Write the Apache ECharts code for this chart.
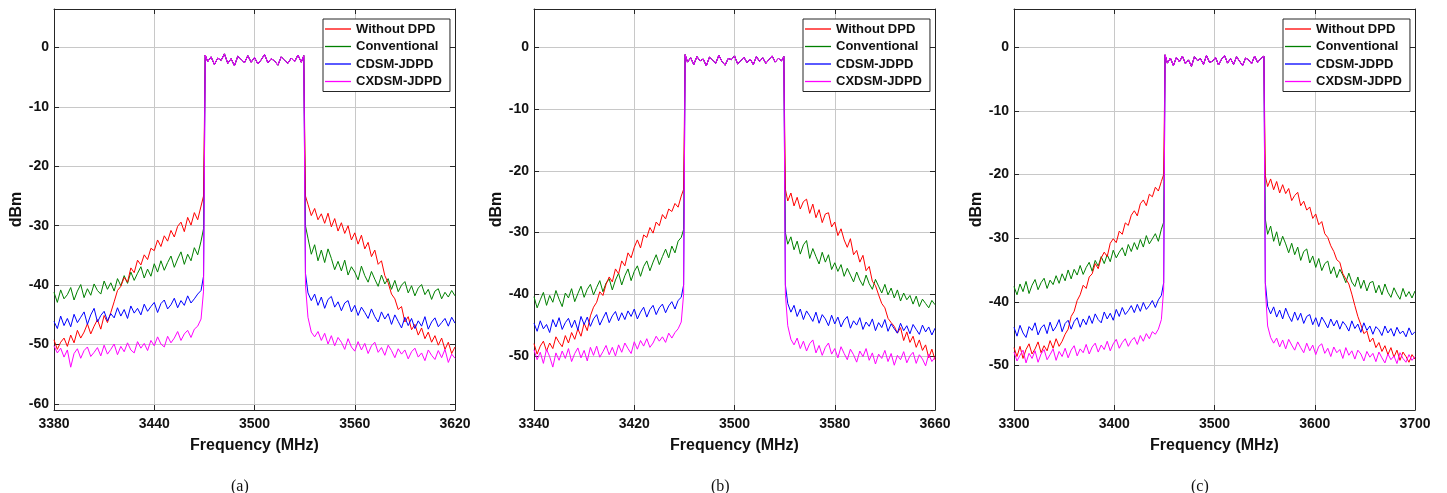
<!DOCTYPE html>
<html><head><meta charset="utf-8">
<script src="https://cdn.jsdelivr.net/npm/echarts@6/dist/echarts.min.js"></script>
<style>html,body{margin:0;padding:0;background:#fff}#c{width:1447px;height:493px}</style>
</head><body><div id="c"></div>
<script>
const seriesNames = ['Without DPD','Conventional','CDSM-JDPD','CXDSM-JDPD'];
const captions = ['(a)','(b)','(c)'];
const xTicksA = [3380,3440,3500,3560,3620];
const xTicksB = [3340,3420,3500,3580,3660];
const xTicksC = [3300,3400,3500,3600,3700];
const yTicksA = [-60,-50,-40,-30,-20,-10,0];
const yTicksB = [-50,-40,-30,-20,-10,0];
const yTicksC = [-50,-40,-30,-20,-10,0];

// ---------- panel (a) ----------
const freqA_L = [3380,3382,3384,3386,3388,3390,3392,3394,3396,3398,3400,3402,3404,3406,3408,3410,3412,3414,3416,3418,3420,3422,3424,3426,3428,3430,3432,3434,3436,3438,3440,3442,3444,3446,3448,3450,3452,3454,3456,3458,3460,3462,3464,3466,3468,3469.5];
const freqA_B = [3470.5,3472,3474,3476,3478,3480,3482,3484,3486,3488,3490,3492,3494,3496,3498,3500,3502,3504,3506,3508,3510,3512,3514,3516,3518,3520,3522,3524,3526,3528,3529.5];
const freqA_R = [3530.5,3532,3534,3536,3538,3540,3542,3544,3546,3548,3550,3552,3554,3556,3558,3560,3562,3564,3566,3568,3570,3572,3574,3576,3578,3580,3582,3584,3586,3588,3590,3592,3594,3596,3598,3600,3602,3604,3606,3608,3610,3612,3614,3616,3618,3620];
const bandA = [-1.3,-2.4,-1.6,-2.9,-1.8,-2.2,-1.1,-2.7,-1.9,-3.1,-1.5,-2.0,-2.6,-1.4,-2.5,-1.7,-2.8,-2.1,-1.2,-2.6,-1.9,-2.3,-3.0,-1.6,-2.2,-2.7,-1.8,-2.4,-1.3,-2.5,-1.4];
const withoutA_L = [-49.2,-50.8,-49.6,-48.9,-50.3,-48.4,-49.7,-47.6,-48.9,-47.9,-46.5,-48.2,-46.9,-45.8,-47.4,-45.1,-46.3,-44.6,-42.8,-40.9,-40.2,-38.7,-39.5,-37.1,-37.9,-35.8,-36.6,-34.9,-35.7,-33.8,-34.2,-32.4,-33.5,-31.7,-32.6,-30.8,-31.9,-30.1,-29.4,-31.0,-28.6,-29.9,-27.8,-29.0,-26.7,-25.0];
const withoutA_R = [-25.0,-26.4,-28.3,-27.1,-29.0,-28.0,-29.6,-27.9,-30.2,-28.8,-30.9,-29.5,-31.3,-30.0,-32.4,-31.2,-33.1,-31.6,-33.9,-32.8,-35.2,-34.1,-36.5,-35.9,-38.4,-39.6,-41.5,-42.3,-44.1,-43.6,-46.2,-45.3,-47.5,-46.6,-48.4,-47.2,-49.0,-47.9,-49.6,-48.5,-50.1,-48.9,-50.8,-49.6,-51.5,-50.4];
const convA_L = [-41.2,-42.9,-40.8,-42.3,-41.6,-40.4,-42.5,-41.0,-39.9,-42.1,-40.6,-41.7,-39.8,-40.9,-41.5,-39.3,-40.7,-39.6,-41.0,-38.9,-40.1,-38.4,-39.7,-37.8,-39.2,-38.0,-36.9,-38.8,-37.3,-38.5,-36.4,-37.8,-35.9,-37.5,-36.2,-35.1,-37.0,-35.6,-34.4,-36.5,-34.8,-35.9,-33.7,-34.9,-32.6,-30.5];
const convA_R = [-30.0,-32.1,-34.8,-33.2,-35.9,-34.1,-36.2,-33.9,-35.5,-37.4,-36.0,-37.6,-35.8,-38.3,-36.9,-37.8,-39.1,-36.8,-38.4,-39.5,-37.7,-39.0,-40.2,-38.3,-39.8,-38.9,-40.7,-39.2,-41.1,-40.0,-39.4,-41.3,-40.1,-41.8,-40.5,-39.9,-41.6,-40.7,-42.4,-41.0,-40.6,-42.3,-41.2,-42.0,-40.9,-41.8];
const cdsmA_L = [-46.1,-47.3,-45.2,-46.8,-45.6,-47.0,-44.9,-46.3,-45.4,-44.5,-46.6,-45.0,-43.9,-46.2,-45.1,-44.4,-46.0,-44.8,-45.5,-43.8,-45.2,-44.1,-45.6,-43.5,-44.7,-43.9,-45.0,-43.2,-44.4,-43.6,-42.9,-44.6,-43.1,-42.5,-44.0,-43.3,-42.2,-43.8,-42.6,-43.4,-41.8,-43.0,-42.3,-41.5,-40.9,-38.5];
const cdsmA_R = [-38.0,-41.3,-42.6,-41.5,-43.4,-42.0,-43.9,-42.4,-41.9,-43.7,-42.8,-44.3,-43.0,-42.6,-44.5,-43.4,-45.1,-43.7,-44.6,-45.6,-44.0,-45.3,-46.2,-44.5,-45.7,-44.8,-46.6,-45.0,-46.1,-47.2,-45.4,-46.8,-45.6,-47.3,-46.0,-46.9,-45.3,-47.4,-46.2,-45.5,-47.0,-46.3,-45.6,-46.9,-45.4,-46.4];
const cxdsmA_L = [-50.2,-51.4,-50.6,-52.1,-50.9,-53.8,-51.5,-50.7,-52.3,-51.0,-50.4,-52.0,-51.3,-50.5,-51.9,-50.1,-51.6,-50.8,-49.9,-51.7,-50.3,-51.2,-49.7,-50.9,-51.4,-49.5,-50.6,-49.8,-51.0,-49.3,-50.2,-48.7,-49.9,-50.4,-48.6,-49.7,-48.9,-47.8,-49.3,-48.2,-47.6,-48.8,-47.4,-46.9,-45.7,-41.0];
const cxdsmA_R = [-40.0,-45.4,-47.9,-48.7,-47.8,-49.3,-48.1,-49.9,-48.5,-50.2,-48.8,-49.6,-50.8,-49.0,-50.4,-51.1,-49.5,-50.9,-49.8,-51.5,-50.2,-49.6,-51.3,-50.5,-51.8,-50.1,-51.0,-52.2,-50.7,-51.6,-50.9,-52.4,-51.2,-50.6,-52.1,-51.4,-52.7,-50.9,-51.8,-52.5,-51.0,-52.2,-50.8,-53.0,-51.6,-52.3];

// ---------- panel (b) ----------
const freqB_L = [3340,3342.5,3345,3347.5,3350,3352.5,3355,3357.5,3360,3362.5,3365,3367.5,3370,3372.5,3375,3377.5,3380,3382.5,3385,3387.5,3390,3392.5,3395,3397.5,3400,3402.5,3405,3407.5,3410,3412.5,3415,3417.5,3420,3422.5,3425,3427.5,3430,3432.5,3435,3437.5,3440,3442.5,3445,3447.5,3450,3452.5,3455,3457.5,3459.4];
const freqB_B = [3460.6,3462.5,3465,3467.5,3470,3472.5,3475,3477.5,3480,3482.5,3485,3487.5,3490,3492.5,3495,3497.5,3500,3502.5,3505,3507.5,3510,3512.5,3515,3517.5,3520,3522.5,3525,3527.5,3530,3532.5,3535,3537.5,3539.4];
const freqB_R = [3540.6,3542.5,3545,3547.5,3550,3552.5,3555,3557.5,3560,3562.5,3565,3567.5,3570,3572.5,3575,3577.5,3580,3582.5,3585,3587.5,3590,3592.5,3595,3597.5,3600,3602.5,3605,3607.5,3610,3612.5,3615,3617.5,3620,3622.5,3625,3627.5,3630,3632.5,3635,3637.5,3640,3642.5,3645,3647.5,3650,3652.5,3655,3657.5,3660];
const bandB = [-1.2,-2.4,-1.7,-2.8,-1.5,-2.2,-1.9,-3.0,-1.6,-2.1,-2.6,-1.3,-2.3,-2.9,-1.8,-2.0,-1.4,-2.7,-2.2,-1.6,-2.5,-1.9,-2.8,-1.5,-2.3,-1.7,-2.6,-2.0,-1.4,-2.4,-1.8,-2.2,-1.5];
const withoutB_L = [-48.0,-49.7,-48.4,-47.6,-49.2,-47.9,-48.8,-46.9,-47.8,-48.5,-46.7,-47.9,-46.2,-47.3,-45.6,-46.8,-44.7,-45.9,-43.5,-42.1,-41.3,-39.6,-40.2,-38.4,-37.2,-38.0,-35.9,-36.7,-34.6,-35.4,-33.3,-34.1,-32.4,-31.2,-32.5,-30.4,-30.8,-29.2,-30.1,-28.3,-28.9,-27.1,-27.8,-26.2,-26.6,-25.3,-25.9,-24.1,-23.0];
const withoutB_R = [-23.0,-24.9,-23.6,-25.7,-24.3,-26.2,-25.0,-24.6,-26.9,-25.4,-27.6,-26.3,-28.4,-27.0,-26.8,-29.1,-28.3,-30.5,-29.4,-31.2,-32.4,-31.0,-33.6,-32.9,-34.8,-33.7,-36.2,-35.5,-37.9,-38.6,-40.1,-41.5,-42.2,-43.9,-44.6,-45.2,-46.3,-45.4,-47.5,-46.1,-47.8,-46.8,-48.6,-47.4,-49.1,-48.2,-50.3,-48.9,-50.6];
const convB_L = [-40.4,-42.2,-40.9,-39.7,-41.8,-40.2,-41.3,-39.4,-40.8,-42.0,-39.8,-40.6,-39.1,-41.2,-39.9,-38.7,-40.5,-39.2,-38.4,-40.1,-38.9,-37.8,-39.6,-38.2,-37.5,-39.3,-37.7,-36.6,-38.5,-37.0,-35.9,-37.8,-36.3,-35.4,-37.1,-35.5,-34.6,-36.2,-34.8,-33.6,-35.2,-33.9,-32.7,-34.1,-32.2,-33.3,-31.4,-30.8,-29.5];
const convB_R = [-30.0,-31.9,-30.7,-32.8,-31.4,-33.5,-32.0,-31.3,-34.2,-32.6,-33.9,-35.1,-33.2,-34.8,-33.6,-36.0,-34.9,-36.3,-35.2,-37.1,-35.8,-36.9,-38.0,-36.4,-37.7,-38.6,-36.9,-38.3,-39.2,-37.6,-38.7,-39.8,-38.4,-40.1,-39.0,-40.6,-39.3,-41.1,-39.8,-40.9,-40.2,-41.6,-40.3,-42.0,-40.8,-41.5,-42.2,-41.0,-41.7];
const cdsmB_L = [-44.7,-46.0,-44.3,-45.6,-44.9,-46.2,-44.1,-45.3,-43.8,-45.7,-44.6,-43.9,-45.4,-44.2,-45.8,-43.6,-44.9,-43.7,-45.2,-44.0,-43.3,-45.0,-43.9,-42.9,-44.6,-43.5,-42.8,-44.3,-43.0,-44.1,-42.7,-43.6,-42.4,-44.0,-42.9,-42.1,-43.7,-42.5,-41.8,-43.3,-42.2,-41.6,-43.0,-41.9,-41.2,-42.4,-41.0,-40.5,-38.5];
const cdsmB_R = [-38.5,-41.5,-42.9,-41.8,-43.6,-42.4,-44.1,-42.7,-43.5,-44.4,-42.9,-44.7,-43.3,-44.0,-45.1,-43.4,-44.8,-43.7,-45.3,-44.2,-43.6,-45.5,-44.3,-45.0,-43.8,-45.7,-44.5,-45.2,-44.0,-45.9,-44.6,-45.4,-44.1,-46.0,-44.8,-45.6,-46.3,-44.7,-45.9,-45.1,-46.4,-44.9,-45.7,-46.5,-45.0,-46.1,-45.3,-46.6,-45.5];
const cxdsmB_L = [-49.0,-50.6,-49.4,-51.2,-48.9,-50.1,-51.8,-49.5,-50.7,-49.2,-50.4,-48.8,-50.9,-49.6,-48.7,-50.3,-49.1,-50.8,-48.6,-49.9,-48.4,-50.2,-49.3,-48.3,-49.8,-48.6,-50.0,-48.2,-49.4,-47.9,-48.8,-49.6,-47.7,-48.9,-47.5,-48.4,-47.2,-48.6,-47.9,-46.8,-47.6,-46.9,-47.8,-46.3,-47.1,-46.2,-45.6,-44.5,-40.0];
const cxdsmB_R = [-40.0,-45.1,-47.3,-48.2,-47.1,-48.8,-47.6,-49.2,-48.0,-47.4,-49.5,-48.3,-49.9,-48.6,-47.9,-49.7,-48.8,-50.3,-48.5,-49.6,-50.6,-48.9,-49.8,-51.0,-49.2,-50.1,-48.8,-50.7,-49.5,-51.3,-49.7,-50.4,-49.1,-50.9,-49.6,-51.5,-49.9,-50.6,-49.3,-51.1,-50.0,-49.4,-51.2,-49.8,-50.5,-51.6,-49.7,-50.9,-50.2];

// ---------- panel (c) ----------
const freqC_L = [3300,3303,3306,3309,3312,3315,3318,3321,3324,3327,3330,3333,3336,3339,3342,3345,3348,3351,3354,3357,3360,3363,3366,3369,3372,3375,3378,3381,3384,3387,3390,3393,3396,3399,3402,3405,3408,3411,3414,3417,3420,3423,3426,3429,3432,3435,3438,3441,3444,3447,3449.3];
const freqC_B = [3450.7,3453,3456,3459,3462,3465,3468,3471,3474,3477,3480,3483,3486,3489,3492,3495,3498,3501,3504,3507,3510,3513,3516,3519,3522,3525,3528,3531,3534,3537,3540,3543,3546,3549.3];
const freqC_R = [3550.7,3553,3556,3559,3562,3565,3568,3571,3574,3577,3580,3583,3586,3589,3592,3595,3598,3601,3604,3607,3610,3613,3616,3619,3622,3625,3628,3631,3634,3637,3640,3643,3646,3649,3652,3655,3658,3661,3664,3667,3670,3673,3676,3679,3682,3685,3688,3691,3694,3697,3700];
const bandC = [-1.2,-2.5,-1.7,-2.9,-1.6,-2.3,-1.4,-2.6,-2.0,-3.0,-1.5,-2.1,-1.8,-2.7,-1.3,-2.4,-2.2,-1.6,-2.8,-1.9,-1.3,-2.5,-1.8,-2.7,-1.5,-2.2,-2.9,-1.7,-2.0,-2.6,-1.4,-2.4,-1.8,-1.4];
const withoutC_L = [-47.2,-48.6,-47.0,-48.9,-47.5,-46.6,-48.2,-47.4,-46.3,-48.0,-46.9,-47.7,-46.1,-47.3,-45.8,-47.0,-46.2,-45.1,-44.3,-42.3,-41.5,-39.8,-38.9,-37.4,-37.9,-36.1,-35.6,-34.0,-34.8,-33.1,-32.2,-32.9,-30.8,-30.1,-30.7,-28.9,-29.4,-27.6,-28.0,-26.4,-25.7,-26.5,-24.6,-24.0,-24.9,-23.1,-23.5,-22.0,-22.6,-21.1,-20.0];
const withoutC_R = [-20.2,-21.9,-20.7,-22.4,-21.1,-22.9,-21.6,-23.0,-22.2,-24.1,-23.3,-22.8,-24.9,-24.2,-25.6,-25.1,-26.9,-26.2,-27.9,-27.4,-29.3,-29.9,-31.2,-32.1,-33.4,-33.8,-35.6,-36.4,-37.2,-38.8,-40.6,-42.3,-43.6,-45.0,-44.6,-46.3,-45.7,-47.2,-46.4,-47.8,-46.9,-48.3,-47.2,-48.7,-47.6,-49.2,-47.9,-48.6,-49.5,-48.3,-49.0];
const convC_L = [-37.6,-38.9,-37.2,-38.4,-36.8,-38.7,-37.4,-36.5,-38.1,-37.0,-36.3,-37.9,-36.6,-37.3,-35.9,-37.1,-35.6,-36.7,-35.0,-36.4,-34.9,-35.8,-34.3,-35.7,-34.6,-33.8,-35.2,-33.5,-34.4,-32.9,-34.0,-32.6,-33.7,-31.9,-33.1,-32.2,-31.5,-32.8,-31.0,-32.1,-30.7,-31.8,-30.2,-31.4,-29.6,-30.9,-30.1,-29.3,-30.5,-28.6,-27.5];
const convC_R = [-27.0,-29.4,-28.1,-30.5,-29.0,-31.2,-29.7,-30.9,-32.3,-30.8,-32.6,-31.4,-33.5,-32.1,-31.7,-33.9,-32.8,-34.6,-33.2,-35.1,-34.0,-33.6,-35.6,-34.5,-36.2,-34.9,-35.8,-37.0,-35.5,-36.9,-37.6,-36.1,-37.9,-36.6,-38.3,-37.0,-36.8,-38.6,-37.4,-38.9,-37.2,-38.5,-39.3,-37.8,-38.8,-39.6,-37.9,-39.2,-38.4,-39.4,-38.3];
const cdsmC_L = [-44.0,-45.4,-43.7,-44.9,-45.6,-43.9,-44.5,-43.3,-45.2,-44.1,-43.6,-45.0,-43.2,-44.6,-43.9,-42.8,-44.7,-43.4,-42.9,-44.3,-43.1,-42.5,-44.0,-42.7,-43.6,-42.2,-43.4,-41.9,-42.8,-43.3,-41.6,-42.7,-41.8,-42.9,-41.2,-42.3,-40.9,-42.0,-41.4,-40.6,-41.7,-40.4,-41.5,-40.1,-41.2,-40.6,-39.8,-40.9,-39.7,-39.0,-37.0];
const cdsmC_R = [-37.0,-40.7,-41.9,-40.8,-42.4,-41.3,-42.7,-41.0,-42.2,-43.1,-41.6,-42.9,-41.8,-43.4,-42.3,-42.0,-43.6,-42.5,-43.9,-42.4,-43.2,-44.1,-42.7,-43.8,-42.9,-44.3,-43.1,-43.7,-44.6,-43.0,-44.2,-43.5,-44.8,-43.3,-44.5,-43.8,-45.1,-43.9,-44.4,-45.3,-43.8,-44.9,-44.2,-45.4,-44.0,-45.0,-44.6,-45.5,-44.1,-45.2,-44.7];
const cxdsmC_L = [-47.9,-49.3,-48.4,-47.6,-49.6,-48.1,-48.9,-47.7,-49.5,-48.2,-47.5,-49.1,-48.3,-47.4,-49.2,-47.8,-48.6,-47.3,-48.8,-47.6,-46.9,-48.5,-47.4,-48.0,-46.7,-48.2,-47.1,-46.5,-47.9,-46.8,-47.5,-46.2,-47.7,-46.6,-45.9,-47.3,-46.4,-45.8,-47.0,-46.1,-45.6,-46.7,-45.3,-46.2,-45.0,-45.8,-44.7,-45.1,-44.3,-42.8,-38.0];
const cxdsmC_R = [-38.0,-43.8,-45.6,-46.5,-45.7,-47.1,-46.0,-47.4,-45.9,-46.8,-47.6,-46.3,-47.2,-48.0,-46.5,-47.7,-46.8,-48.3,-47.0,-46.6,-48.1,-47.3,-48.6,-47.1,-48.0,-47.5,-48.9,-47.2,-48.4,-47.7,-49.0,-47.6,-48.2,-49.3,-47.8,-48.7,-48.1,-49.4,-47.9,-48.8,-49.6,-48.2,-49.1,-48.5,-49.7,-48.0,-48.9,-49.5,-48.3,-49.2,-48.6];

// ---------- assembly ----------
const panels = [
  {xTicks:xTicksA, yTicks:yTicksA, yRange:[-61,6.45], fL:freqA_L, fB:freqA_B, fR:freqA_R, band:bandA,
   L:[withoutA_L,convA_L,cdsmA_L,cxdsmA_L], R:[withoutA_R,convA_R,cdsmA_R,cxdsmA_R]},
  {xTicks:xTicksB, yTicks:yTicksB, yRange:[-58.75,6.2], fL:freqB_L, fB:freqB_B, fR:freqB_R, band:bandB,
   L:[withoutB_L,convB_L,cdsmB_L,cxdsmB_L], R:[withoutB_R,convB_R,cdsmB_R,cxdsmB_R]},
  {xTicks:xTicksC, yTicks:yTicksC, yRange:[-57,6], fL:freqC_L, fB:freqC_B, fR:freqC_R, band:bandC,
   L:[withoutC_L,convC_L,cdsmC_L,cxdsmC_L], R:[withoutC_R,convC_R,cdsmC_R,cxdsmC_R]}
];
const gridLefts = [54, 534, 1014];
const colors = ['#ff0000','#008000','#0000ff','#ff00ff'];
const drawOrder = [1,0,2,3];
const axisColor = '#262626';
const labelFont = {fontFamily:'Liberation Sans, Arial, sans-serif', fontWeight:'bold', fontSize:14, color:'#111'};
const nameFont = {fontFamily:'Liberation Sans, Arial, sans-serif', fontWeight:'bold', fontSize:16, color:'#111'};
const lineIcon = 'path://M0,0 L26,0 L26,1.3 L0,1.3 Z';

const grid = [], xAxis = [], yAxis = [], series = [], legend = [], graphic = [];
panels.forEach((p, i) => {
  const x0 = p.xTicks[0];
  const span = p.xTicks[p.xTicks.length - 1] - x0;
  const step = p.xTicks[1] - p.xTicks[0];
  grid.push({left: gridLefts[i], top: 9, width: 401, height: 401});
  const xBase = {type:'value', gridIndex:i, min:0, max:span, interval:step,
    axisLine:{show:true, onZero:false, lineStyle:{color:axisColor, width:1}},
    axisTick:{show:true, inside:true, length:5, lineStyle:{color:axisColor}}};
  xAxis.push(Object.assign({}, xBase, {position:'bottom',
    name:'Frequency (MHz)', nameLocation:'middle', nameGap:28, nameTextStyle:nameFont,
    axisLabel:Object.assign({margin:7, formatter:v => String(Math.round(v + x0))}, labelFont),
    splitLine:{show:true, lineStyle:{color:'#c8c8c8', width:1}}}));
  xAxis.push(Object.assign({}, xBase, {position:'top', axisLabel:{show:false}, splitLine:{show:false}}));
  const yBase = {type:'value', gridIndex:i, min:p.yRange[0], max:p.yRange[1], splitNumber:6, minInterval:10, maxInterval:10,
    axisLine:{show:true, onZero:false, lineStyle:{color:axisColor, width:1}},
    axisTick:{show:true, inside:true, length:5, lineStyle:{color:axisColor}}};
  const fmtY = v => (p.yTicks.some(t => Math.abs(t - v) < 1e-6) ? String(Math.round(v)) : '');
  yAxis.push(Object.assign({}, yBase, {position:'left',
    name:'dBm', nameLocation:'middle', nameGap:29, nameTextStyle:nameFont,
    axisLabel:Object.assign({margin:5, formatter:fmtY}, labelFont),
    splitLine:{show:true, lineStyle:{color:'#c8c8c8', width:1}}}));
  yAxis.push(Object.assign({}, yBase, {position:'right', axisLabel:{show:false}, splitLine:{show:false}}));

  const freqs = [].concat(p.fL, p.fB, p.fR);
  drawOrder.forEach(k => {
    const vals = [].concat(p.L[k], p.band, p.R[k]);
    series.push({
      name: seriesNames[k], type:'line', xAxisIndex:2*i, yAxisIndex:2*i,
      data: freqs.map((f, j) => [f - x0, vals[j]]),
      symbol:'none', showSymbol:false, smooth:false, animation:false, clip:true,
      lineStyle:{color:colors[k], width:1}, itemStyle:{color:colors[k]}
    });
  });

  legend.push({
    data: seriesNames.map(n => ({name:n, icon:lineIcon})), orient:'vertical', left: gridLefts[i] + 269, top: 19,
    itemWidth:26, itemHeight:14, itemGap:3.5,
    backgroundColor:'#fff', borderColor:axisColor, borderWidth:1, borderRadius:0,
    padding:[3, 8, 3, 2], selectedMode:false,
    textStyle:{fontFamily:'Liberation Sans, Arial, sans-serif', fontWeight:'bold', fontSize:13, color:'#111', lineHeight:14}
  });

  graphic.push({type:'text', left: gridLefts[i] + 177, top: 479,
    style:{text: captions[i], font:'16px "Liberation Serif", "Times New Roman", serif', fill:'#111'}});
});

const chart = echarts.init(document.getElementById('c'), null, {renderer:'canvas'});
chart.setOption({backgroundColor:'#fff', animation:false, grid, xAxis, yAxis, series, legend, graphic});
</script>
</body></html>
